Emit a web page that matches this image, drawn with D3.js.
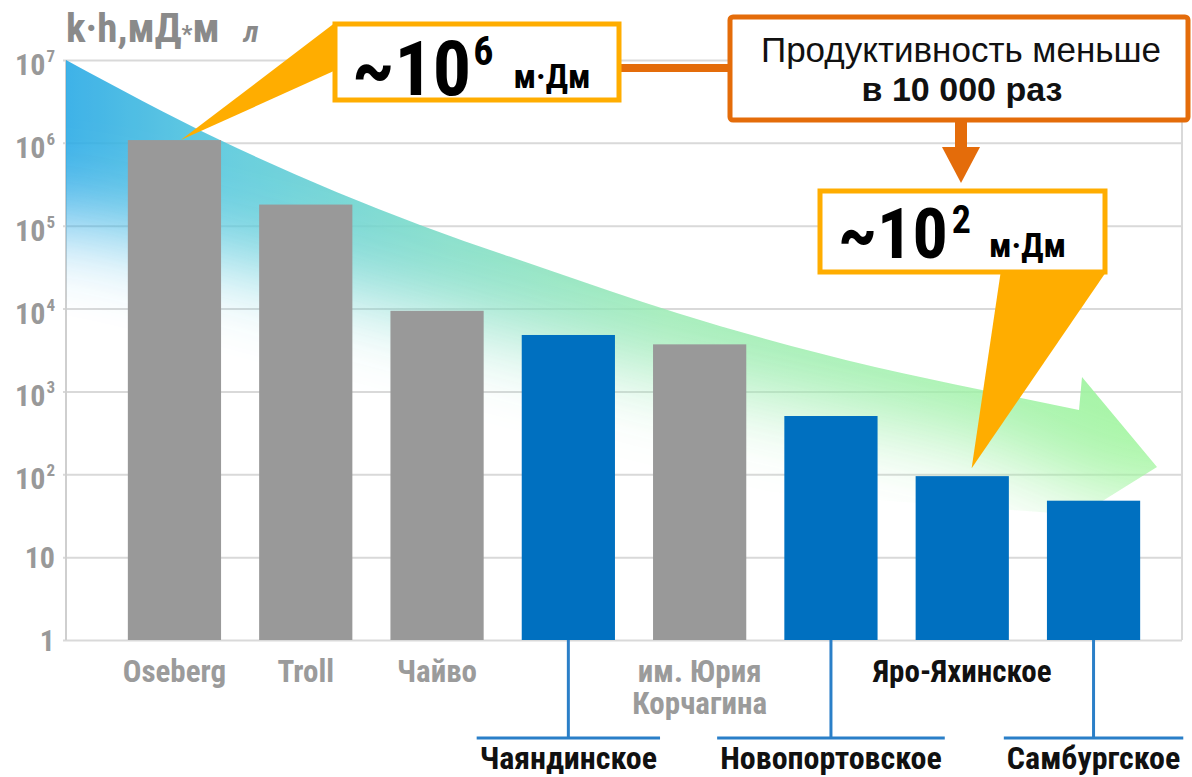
<!DOCTYPE html>
<html>
<head>
<meta charset="utf-8">
<script src="https://cdn.jsdelivr.net/npm/d3@7"></script>
<style>
body { margin: 0; background: #fff; }
svg { display: block; }
</style>
</head>
<body>
<script>
// data (log scale, k*h)
var categories = ["Oseberg", "Troll", "Чайво", "Чаяндинское", "им. Юрия\nКорчагина", "Новопортовское", "Яро-Яхинское", "Самбургское"];
var values = [1.08e6, 1.8e5, 9.4e3, 4.8e3, 3.7e3, 505, 95, 48];
var isOurs = [false, false, false, true, false, true, true, true];
var labelRow = [1, 1, 1, 2, 1, 2, 1, 2];
var yTicks = [1, 10, 1e2, 1e3, 1e4, 1e5, 1e6, 1e7];
var tickBase = ["1", "10", "10", "10", "10", "10", "10", "10"];
var tickExp = ["", "", "2", "3", "4", "5", "6", "7"];

var W = 1192, H = 777;
var plotLeft = 66, plotRight = 1182, plotTop = 60, plotBottom = 640;
var narrow = '"Liberation Sans Narrow", "Arial Narrow", "Roboto Condensed", "DejaVu Sans Condensed", sans-serif';
var GRAY = "#999999", BLUE = "#0070c0", AMBER = "#ffad00", RUST = "#e46c0a";

var svg = d3.select("body").append("svg")
	.attr("width", W)
	.attr("height", H);

var x = d3.scaleBand()
	.domain(categories)
	.range([108.8, 1159.2])
	.paddingInner(0.29)
	.paddingOuter(0.145);
var y = d3.scaleLog()
	.domain([1, 1e7])
	.range([plotBottom, plotTop]);

var defs = svg.append("defs");

// gridlines
var grid = svg.append("g")
	.attr("transform", "translate(" + (plotLeft - 3) + ",0)")
	.call(d3.axisLeft(y).tickValues(yTicks).tickSize(-(plotRight - plotLeft + 3)).tickFormat(""));
grid.select(".domain").remove();
grid.selectAll("line").attr("stroke", "#d9d9d9").attr("stroke-width", 2);
svg.append("line").attr("x1", plotLeft).attr("x2", plotLeft).attr("y1", plotTop).attr("y2", plotBottom)
	.attr("stroke", "#cfcfcf").attr("stroke-width", 2);
svg.append("line").attr("x1", plotRight).attr("x2", plotRight).attr("y1", plotTop).attr("y2", plotBottom)
	.attr("stroke", "#d9d9d9").attr("stroke-width", 2);

// y tick labels
var tl = svg.append("g").selectAll("text")
	.data(yTicks)
	.join("text")
	.attr("x", 55)
	.attr("y", function(d, i) { return y(d) + (tickExp[i] ? 15 : 11); })
	.attr("text-anchor", "end")
	.attr("font-family", narrow)
	.attr("font-weight", "bold")
	.attr("font-size", 30)
	.attr("fill", GRAY);
tl.append("tspan").text(function(d, i) { return tickBase[i]; });
tl.append("tspan")
	.attr("font-size", 17)
	.attr("dy", -13)
	.attr("dx", 1)
	.text(function(d, i) { return tickExp[i]; });

// axis title
var title = svg.append("text")
	.attr("x", 66).attr("y", 42)
	.attr("font-family", narrow)
	.attr("font-weight", "bold")
	.attr("font-size", 41)
	.attr("fill", "#8a8a8a");
title.append("tspan").text("k·h,мД");
title.append("tspan").attr("font-size", 24).text("*");
title.append("tspan").text("м");
title.append("tspan").attr("dx", 24).attr("font-style", "italic").attr("font-size", 30).text("л");

// big gradient arrow (decoration)
var arrowTop = [[plotLeft, y(1e7)], [220, 140], [420, 225], [540, 267], [677, 313], [875, 367], [982, 390], [1079, 410]];
var arrowHead = [[1082, 377], [1157, 467], [1080, 515], [plotLeft, 440]];
var topPath = d3.line().curve(d3.curveMonotoneX)(arrowTop);
var arrowPath = topPath + arrowHead.map(function(p) { return "L" + p[0] + "," + p[1]; }).join("") + "Z";

var grad = defs.append("linearGradient").attr("id", "arrowGrad")
	.attr("gradientUnits", "userSpaceOnUse")
	.attr("x1", plotLeft).attr("y1", 0).attr("x2", 1157).attr("y2", 0);
[[0, "#2aaae6"], [0.15, "#58c9dc"], [0.35, "#7ddcc6"], [0.55, "#98eab2"], [1, "#9ff59c"]].forEach(function(s) {
	grad.append("stop").attr("offset", s[0]).attr("stop-color", s[1]);
});

var blur = defs.append("filter").attr("id", "fadeBlur")
	.attr("filterUnits", "userSpaceOnUse")
	.attr("x", -300).attr("y", -300).attr("width", 1800).attr("height", 1400);
blur.append("feGaussianBlur").attr("stdDeviation", 42);

var fadeLine = [[1400, 505], [1170, 505], [1100, 495], [982, 442], [677, 376], [400, 303], [200, 250], [plotLeft, 218], [-200, 212]];
var mask = defs.append("mask").attr("id", "fadeMask")
	.attr("maskUnits", "userSpaceOnUse")
	.attr("x", 0).attr("y", 0).attr("width", W).attr("height", H);
mask.append("path")
	.attr("d", "M-200,-200L1400,-200" + fadeLine.map(function(p) { return "L" + p[0] + "," + p[1]; }).join("") + "Z")
	.attr("fill", "#fff")
	.attr("filter", "url(#fadeBlur)");

svg.append("path")
	.attr("d", arrowPath)
	.attr("fill", "url(#arrowGrad)")
	.attr("opacity", 0.9)
	.attr("mask", "url(#fadeMask)");

// bars
svg.append("g").selectAll("rect")
	.data(values)
	.join("rect")
	.attr("x", function(d, i) { return x(categories[i]); })
	.attr("y", function(d) { return y(d); })
	.attr("width", x.bandwidth())
	.attr("height", function(d) { return y(1) - y(d); })
	.attr("fill", function(d, i) { return isOurs[i] ? BLUE : GRAY; });

// x labels
categories.forEach(function(c, i) {
	var cx = x(c) + x.bandwidth() / 2;
	var col = isOurs[i] ? "#111" : "#9b9b9b";
	if (labelRow[i] === 1) {
		var t = svg.append("text")
			.attr("x", cx).attr("y", 682)
			.attr("text-anchor", "middle")
			.attr("font-family", narrow).attr("font-weight", "bold")
			.attr("font-size", 31).attr("fill", col);
		c.split("\n").forEach(function(line, k) {
			t.append("tspan").attr("x", cx).attr("dy", k ? 32 : 0).text(line);
		});
	} else {
		var t2 = svg.append("text")
			.attr("x", cx).attr("y", 769)
			.attr("text-anchor", "middle")
			.attr("font-family", narrow).attr("font-weight", "bold")
			.attr("font-size", 32).attr("fill", col)
			.text(c);
		var bb = t2.node().getBBox();
		svg.append("line").attr("x1", cx).attr("x2", cx).attr("y1", y(1)).attr("y2", 738)
			.attr("stroke", "#2a7fc8").attr("stroke-width", 3);
		svg.append("line").attr("x1", bb.x - 3).attr("x2", bb.x + bb.width + 3).attr("y1", 738).attr("y2", 738)
			.attr("stroke", "#2a7fc8").attr("stroke-width", 3);
	}
});

// callout 1: ~10^6
svg.append("polygon")
	.attr("points", [[336, 22], [x(categories[0]) + 53, y(values[0])], [336, 70]].join(" "))
	.attr("fill", AMBER);
svg.append("line").attr("x1", 618).attr("x2", 732).attr("y1", 68).attr("y2", 68)
	.attr("stroke", RUST).attr("stroke-width", 8);
svg.append("rect").attr("x", 335).attr("y", 24).attr("width", 284).attr("height", 76)
	.attr("fill", "#fff").attr("stroke", AMBER).attr("stroke-width", 5);
var c1 = svg.append("text").attr("x", 352).attr("y", 95)
	.attr("font-family", narrow).attr("font-weight", "bold").attr("font-size", 76).attr("fill", "#000");
c1.append("tspan").text("~10");
c1.append("tspan").attr("font-size", 40).attr("dy", -30).attr("dx", 2).text("6");
c1.append("tspan").attr("font-size", 34).attr("dy", 23).attr("dx", 20).text("м·Дм");

// callout 2: text box with arrow
svg.append("rect").attr("x", 730).attr("y", 17).attr("width", 458).attr("height", 103).attr("rx", 3)
	.attr("fill", "#fff").attr("stroke", RUST).attr("stroke-width", 5);
svg.append("text").attr("x", 961).attr("y", 62).attr("text-anchor", "middle")
	.attr("font-family", '"Liberation Sans", Arial, sans-serif').attr("font-size", 35).attr("fill", "#111")
	.text("Продуктивность меньше");
svg.append("text").attr("x", 962).attr("y", 101).attr("text-anchor", "middle")
	.attr("font-family", '"Liberation Sans", Arial, sans-serif').attr("font-weight", "bold").attr("font-size", 34).attr("fill", "#111")
	.text("в 10 000 раз");
svg.append("rect").attr("x", 955).attr("y", 120).attr("width", 12).attr("height", 30).attr("fill", RUST);
svg.append("polygon").attr("points", [[942, 147], [980, 147], [961, 183]].join(" ")).attr("fill", RUST);

// callout 3: ~10^2
var yaro = categories[6];
svg.append("polygon")
	.attr("points", [[1001, 270], [x(yaro) + 56, y(values[6]) - 8], [1106, 272]].join(" "))
	.attr("fill", AMBER);
svg.append("rect").attr("x", 820).attr("y", 191).attr("width", 285).attr("height", 81)
	.attr("fill", "#fff").attr("stroke", AMBER).attr("stroke-width", 5);
var c3 = svg.append("text").attr("x", 838).attr("y", 258)
	.attr("font-family", narrow).attr("font-weight", "bold").attr("font-size", 70).attr("fill", "#000");
c3.append("tspan").text("~10");
c3.append("tspan").attr("font-size", 38).attr("dy", -25).attr("dx", 4).text("2");
c3.append("tspan").attr("font-size", 34).attr("dy", 24).attr("dx", 18).text("м·Дм");
</script>
</body>
</html>
